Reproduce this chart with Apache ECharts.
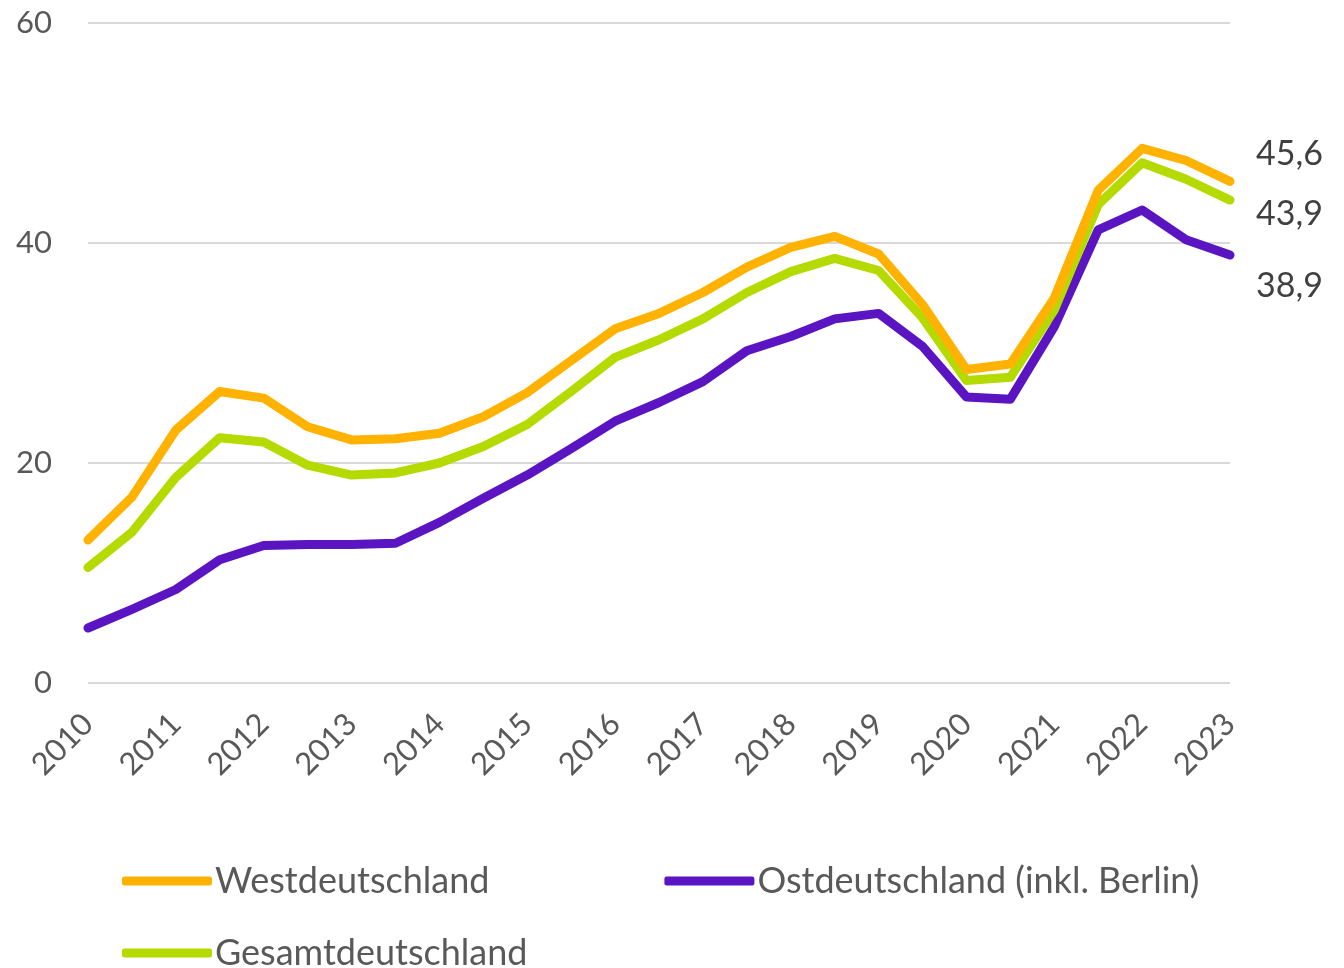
<!DOCTYPE html>
<html>
<head>
<meta charset="utf-8">
<script src="https://cdn.jsdelivr.net/npm/echarts@6/dist/echarts.min.js"></script>
<style>
  html, body { margin: 0; padding: 0; background: #fff; }
  #chart { width: 1344px; height: 968px; }
</style>
</head>
<body>
<div id="chart"></div>
<script>
// half-year points, label only on the full years
const periods = [
  '2010', '2010.5', '2011', '2011.5', '2012', '2012.5', '2013', '2013.5', '2014', '2014.5',
  '2015', '2015.5', '2016', '2016.5', '2017', '2017.5', '2018', '2018.5', '2019', '2019.5',
  '2020', '2020.5', '2021', '2021.5', '2022', '2022.5', '2023'
];

const west = [
  13.0, 16.9, 23.0, 26.5, 25.9, 23.3, 22.1, 22.2, 22.7, 24.2,
  26.4, 29.3, 32.2, 33.6, 35.5, 37.8, 39.6, 40.6, 39.0, 34.4,
  28.5, 29.0, 35.0, 44.8, 48.6, 47.5, 45.6
];

const ost = [
  5.0, 6.7, 8.5, 11.2, 12.5, 12.6, 12.6, 12.7, 14.6, 16.8,
  18.9, 21.3, 23.8, 25.5, 27.4, 30.2, 31.5, 33.1, 33.6, 30.6,
  26.0, 25.8, 32.4, 41.2, 43.0, 40.3, 38.9
];

const gesamt = [
  10.5, 13.7, 18.7, 22.3, 21.9, 19.8, 18.9, 19.1, 20.0, 21.5,
  23.5, 26.5, 29.6, 31.2, 33.1, 35.5, 37.4, 38.6, 37.5, 33.2,
  27.5, 27.8, 33.9, 43.5, 47.3, 45.8, 43.9
];

const names = ['Westdeutschland', 'Ostdeutschland (inkl. Berlin)', 'Gesamtdeutschland'];
const colors = ['#FFB300', '#5A14C2', '#B5DA00'];

const font = 'Lato, "Open Sans", sans-serif';

function makeSeries(name, data, color, labelOffset, z) {
  return {
    name: name,
    type: 'line',
    data: data,
    symbol: 'none',
    z: z,
    lineStyle: { color: color, width: 9, join: 'round', cap: 'round' },
    itemStyle: { color: color },
    endLabel: {
      show: true,
      formatter: (p) => String(p.value).replace('.', ','),
      color: '#404040',
      fontFamily: font,
      fontSize: 34,
      offset: labelOffset
    }
  };
}

const legendBase = {
  icon: 'roundRect',
  itemWidth: 90,
  itemHeight: 9,
  itemGap: 175,
  textStyle: { color: '#595959', fontFamily: font, fontSize: 36, padding: [0, 0, 0, -2] },
  orient: 'horizontal'
};

const option = {
  animation: false,
  backgroundColor: '#fff',
  grid: { left: 88, right: 114, top: 23, bottom: 285, containLabel: false },
  legend: [
    Object.assign({}, legendBase, { left: 117, top: 858, data: [names[0], names[1]] }),
    Object.assign({}, legendBase, { left: 117, top: 930, data: [names[2]] })
  ],
  xAxis: {
    type: 'category',
    boundaryGap: false,
    data: periods,
    axisLine: { show: false },
    axisTick: { show: false },
    axisLabel: {
      interval: 1,
      rotate: 45,
      margin: 36,
      color: '#595959',
      fontFamily: font,
      fontSize: 31,
      formatter: (v) => v.slice(0, 4)
    }
  },
  yAxis: {
    type: 'value',
    min: 0,
    max: 60,
    interval: 20,
    axisLine: { show: false },
    axisTick: { show: false },
    splitLine: { lineStyle: { color: '#D9D9D9', width: 2 } },
    axisLabel: { color: '#595959', fontFamily: font, fontSize: 31, margin: 36 }
  },
  series: [
    makeSeries(names[1], ost, colors[1], [18, 31], 2),
    makeSeries(names[2], gesamt, colors[2], [18, 14], 3),
    makeSeries(names[0], west, colors[0], [18, -27], 4)
  ]
};

const chart = echarts.init(document.getElementById('chart'));
chart.setOption(option);
</script>
</body>
</html>
